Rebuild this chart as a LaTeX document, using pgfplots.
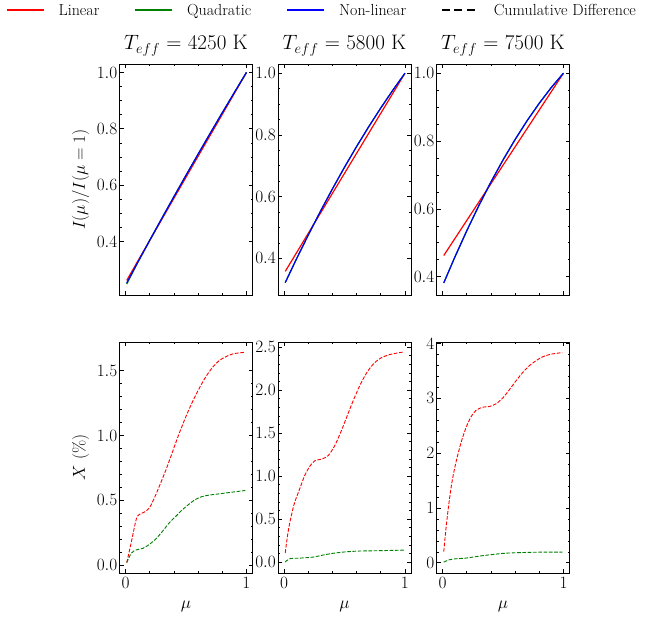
\documentclass[border=0pt]{standalone}
\usepackage{pgfplots}
\pgfplotsset{compat=1.18}
\definecolor{mplgreen}{HTML}{008000}

\pgfplotsset{
  panel/.style={
    scale only axis, width=133pt, height=231pt,
    xmin=-0.05, xmax=1.05, xtick={0,1}, minor x tick num=4,
    tick align=inside, xtick pos=both, ytick pos=both,
    major tick length=4pt, minor tick length=2pt,
    every tick/.style={black, line width=0.6pt},
    axis line style={black, line width=0.8pt},
    tick label style={font=\fontsize{16}{18}\selectfont},
    yticklabel style={inner xsep=2pt, inner ysep=0pt},
    xticklabel style={inner ysep=4pt},
    title style={font=\fontsize{21}{24}\selectfont, at={(0.5,1)}, anchor=south, inner sep=0pt, yshift=2pt},
    label style={font=\fontsize{17}{20}\selectfont},
    ylabel style={at={(axis description cs:-0.293,0.5)}, anchor=center},
    xlabel style={at={(axis description cs:0.5,0)}, yshift=-33pt, anchor=center},
  },
  toprow/.style={panel, xticklabels={}, ytick={0.4,0.6,0.8,1.0}, minor y tick num=3,
    yticklabel style={/pgf/number format/fixed, /pgf/number format/fixed zerofill, /pgf/number format/precision=1}},
  botrow/.style={panel, xlabel={$\mu$}},
  lin/.style={red, line width=1.2pt},
  quad/.style={mplgreen, line width=1.2pt},
  nonlin/.style={blue, line width=1.2pt},
  cumlin/.style={red, line width=0.9pt, dash pattern=on 3.7pt off 1.6pt, smooth},
  cumquad/.style={mplgreen, line width=0.9pt, dash pattern=on 3.7pt off 1.6pt, smooth},
}

\begin{document}
\begin{tikzpicture}
\path[use as bounding box] (0,0) rectangle (668pt,-616pt);

% ---------- top row: intensity profiles ----------
\begin{axis}[toprow, at={(119.5pt,-64pt)}, anchor=north west,
  ymin=0.21, ymax=1.03,
  title={$T_{eff}$ = 4250 K},
  ylabel={$I(\mu)/I(\mu=1)$},
  legend style={at={(axis description cs:-0.8534,1.2325)}, anchor=west,
    draw=none, fill=none, inner sep=0pt, outer sep=0pt,
    font=\fontsize{16}{18}\selectfont, legend columns=4, column sep=0pt,
    /tikz/every odd column/.append style={column sep=14pt},
    /tikz/every even column/.append style={column sep=35pt},
    cells={anchor=west}, nodes={inner sep=0pt}},
  legend image code/.code={\draw[#1] (0pt,0pt) -- (37pt,0pt);},
  ]
  \addlegendimage{red, line width=1.6pt}
  \addlegendentry{Linear}
  \addlegendimage{mplgreen, line width=1.6pt}
  \addlegendentry{Quadratic}
  \addlegendimage{blue, line width=1.6pt}
  \addlegendentry{Non-linear}
  \addlegendimage{black, line width=1.6pt, dash pattern=on 8pt off 4.5pt}
  \addlegendentry{Cumulative Difference}

  \addplot[lin, forget plot] coordinates {(0.01,0.262) (0.5,0.628) (1,1)};
  \addplot[quad, forget plot] coordinates {
    (0.01,0.249) (0.1,0.325) (0.2,0.404) (0.3,0.482) (0.4,0.559) (0.5,0.635)
    (0.6,0.710) (0.7,0.784) (0.8,0.857) (0.9,0.929) (1,1)};
  \addplot[nonlin, forget plot] coordinates {
    (0.01,0.253) (0.1,0.325) (0.2,0.404) (0.3,0.482) (0.4,0.559) (0.5,0.635)
    (0.6,0.710) (0.7,0.784) (0.8,0.857) (0.9,0.929) (1,1)};
\end{axis}

\begin{axis}[toprow, at={(278pt,-64pt)}, anchor=north west,
  ymin=0.281, ymax=1.03,
  title={$T_{eff}$ = 5800 K}]
  \addplot[lin] coordinates {(0.01,0.3575) (0.5,0.6755) (1,1)};
  \addplot[quad] coordinates {
    (0.01,0.3214) (0.1,0.3957) (0.2,0.4752) (0.3,0.5517) (0.4,0.625) (0.5,0.6953)
    (0.6,0.7624) (0.7,0.8265) (0.8,0.8874) (0.9,0.9453) (1,1)};
  \addplot[nonlin] coordinates {
    (0.01,0.3214) (0.1,0.3957) (0.2,0.4752) (0.3,0.5517) (0.4,0.625) (0.5,0.6953)
    (0.6,0.7624) (0.7,0.8265) (0.8,0.8874) (0.9,0.9453) (1,1)};
\end{axis}

\begin{axis}[toprow, at={(436.5pt,-64pt)}, anchor=north west,
  ymin=0.346, ymax=1.027,
  title={$T_{eff}$ = 7500 K}]
  \addplot[lin] coordinates {(0.01,0.4624) (0.5,0.7285) (1,1)};
  \addplot[quad] coordinates {
    (0.01,0.3816) (0.1,0.4564) (0.2,0.5352) (0.3,0.6094) (0.4,0.679) (0.5,0.744)
    (0.6,0.8044) (0.7,0.8602) (0.8,0.9114) (0.9,0.958) (1,1)};
  \addplot[nonlin] coordinates {
    (0.01,0.3816) (0.1,0.4564) (0.2,0.5352) (0.3,0.6094) (0.4,0.679) (0.5,0.744)
    (0.6,0.8044) (0.7,0.8602) (0.8,0.9114) (0.9,0.958) (1,1)};
\end{axis}

% ---------- bottom row: cumulative differences ----------
\begin{axis}[botrow, at={(119.5pt,-342pt)}, anchor=north west,
  ymin=-0.06, ymax=1.72, ytick={0,0.5,1,1.5}, minor y tick num=4,
  yticklabel style={/pgf/number format/fixed, /pgf/number format/fixed zerofill, /pgf/number format/precision=1},
  ylabel={$X$ (\%)}]
  \addplot[cumlin] coordinates {
    (0.01,0.02) (0.047,0.174) (0.088,0.353) (0.115,0.392) (0.157,0.41) (0.198,0.443)
    (0.239,0.52) (0.28,0.61) (0.335,0.737) (0.39,0.878) (0.445,1.019) (0.5,1.147)
    (0.555,1.262) (0.61,1.364) (0.665,1.454) (0.72,1.525) (0.775,1.577) (0.83,1.607)
    (0.885,1.628) (0.94,1.636) (0.99,1.641)};
  \addplot[cumquad] coordinates {
    (0.01,0.02) (0.047,0.092) (0.088,0.118) (0.143,0.13) (0.198,0.161) (0.253,0.205)
    (0.308,0.264) (0.363,0.328) (0.418,0.379) (0.473,0.43) (0.527,0.472) (0.58,0.508)
    (0.63,0.528) (0.69,0.540) (0.775,0.550) (0.857,0.560) (0.94,0.570) (0.99,0.576)};
\end{axis}

\begin{axis}[botrow, at={(278pt,-342pt)}, anchor=north west,
  ymin=-0.127, ymax=2.558, ytick={0,0.5,1,1.5,2,2.5}, minor y tick num=4,
  yticklabel style={/pgf/number format/fixed, /pgf/number format/fixed zerofill, /pgf/number format/precision=1}]
  \addplot[cumlin] coordinates {
    (0.01,0.108) (0.033,0.347) (0.06,0.54) (0.088,0.694) (0.129,0.849) (0.17,1.003)
    (0.212,1.111) (0.253,1.177) (0.308,1.196) (0.363,1.235) (0.418,1.35) (0.473,1.524)
    (0.527,1.717) (0.582,1.91) (0.637,2.083) (0.692,2.218) (0.747,2.315) (0.802,2.373)
    (0.871,2.411) (0.94,2.431) (0.99,2.442)};
  \addplot[cumquad] coordinates {
    (0.01,0.0) (0.047,0.039) (0.129,0.046) (0.239,0.058) (0.349,0.089) (0.459,0.112)
    (0.596,0.127) (0.734,0.131) (0.871,0.135) (0.99,0.139)};
\end{axis}

\begin{axis}[botrow, at={(436.5pt,-342pt)}, anchor=north west,
  ymin=-0.187, ymax=4.03, ytick={0,1,2,3,4}, minor y tick num=4]
  \addplot[cumlin] coordinates {
    (0.01,0.205) (0.028,0.616) (0.05,1.039) (0.077,1.462) (0.11,1.825) (0.152,2.187)
    (0.193,2.459) (0.234,2.659) (0.275,2.779) (0.331,2.84) (0.386,2.852) (0.441,2.9)
    (0.496,3.003) (0.551,3.154) (0.606,3.317) (0.661,3.468) (0.716,3.595) (0.771,3.686)
    (0.826,3.758) (0.895,3.807) (0.99,3.837)};
  \addplot[cumquad] coordinates {
    (0.01,0.012) (0.055,0.054) (0.11,0.073) (0.193,0.085) (0.303,0.121) (0.413,0.151)
    (0.523,0.175) (0.661,0.187) (0.799,0.193) (0.99,0.193)};
\end{axis}
\end{tikzpicture}
\end{document}
